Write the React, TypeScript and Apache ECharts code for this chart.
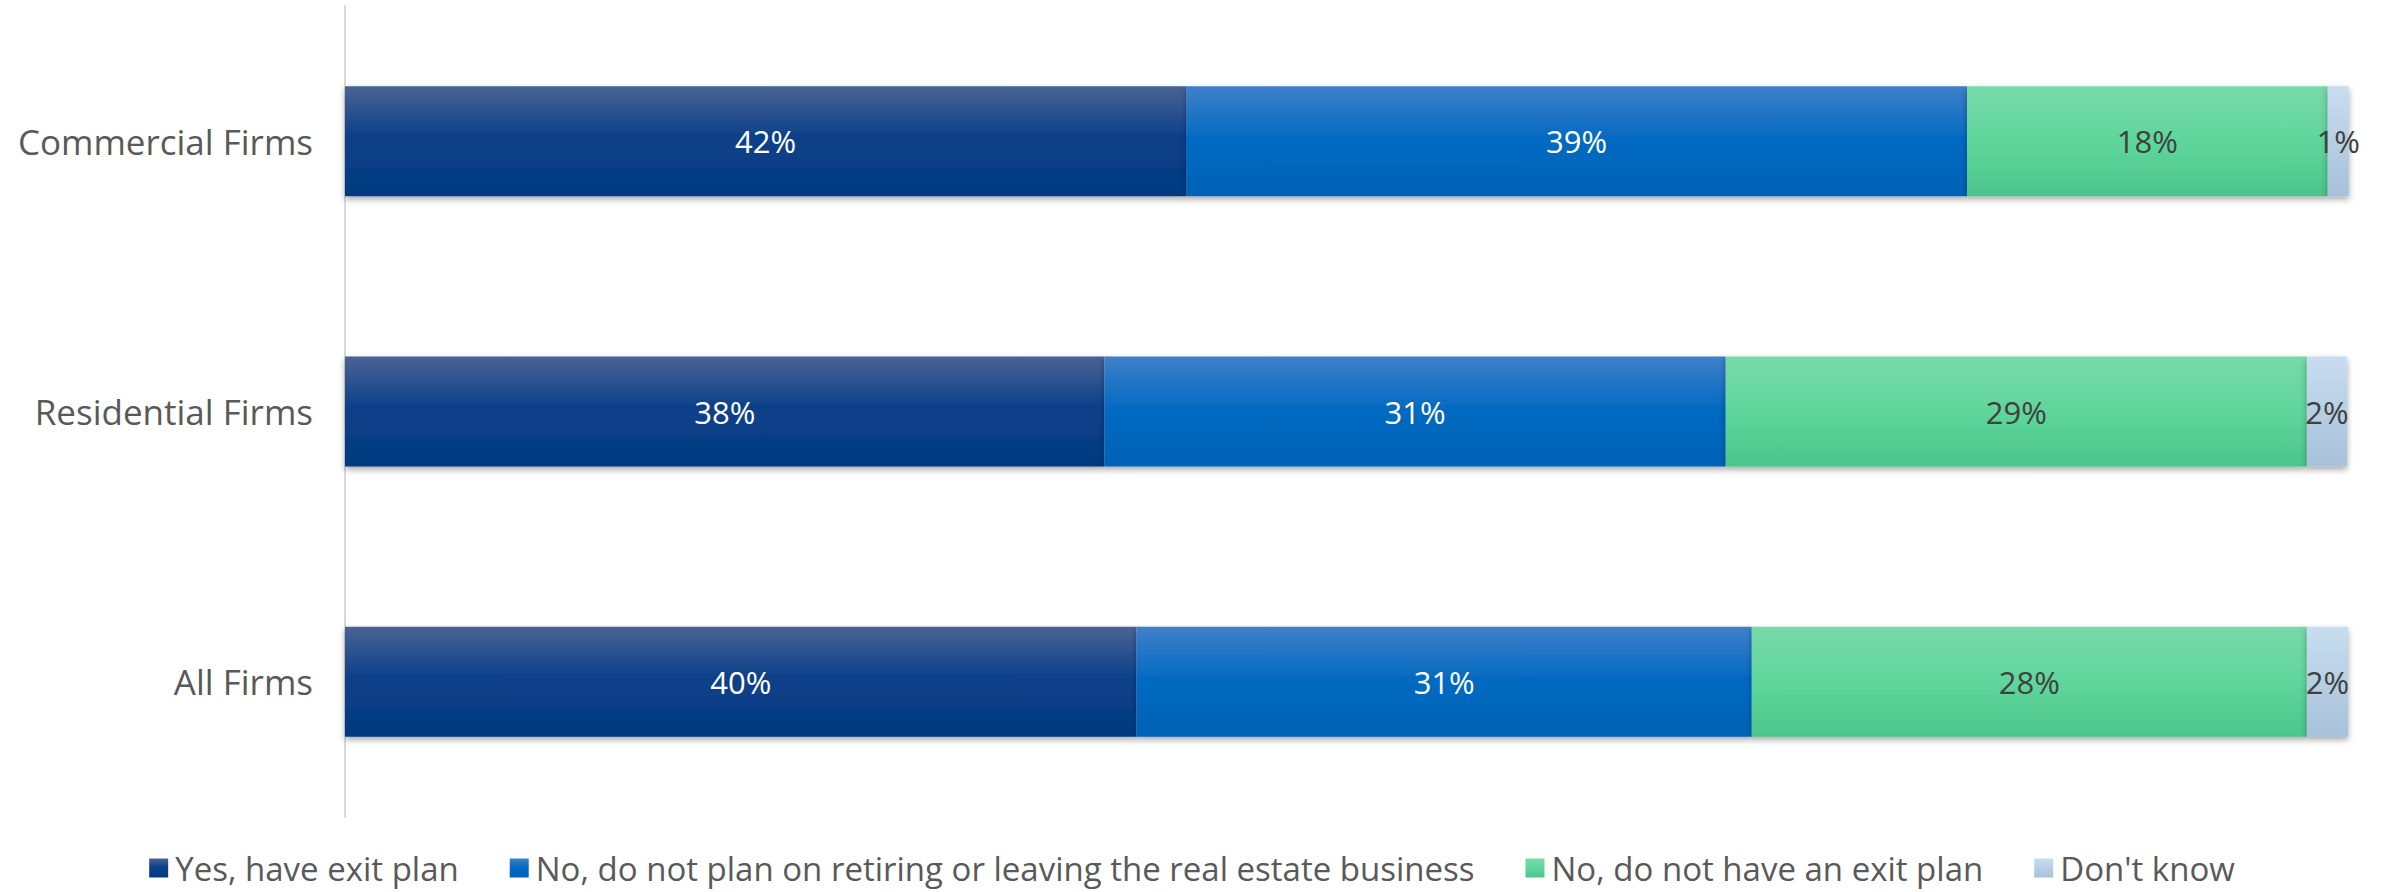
import React, { useEffect, useRef } from "react";
import * as echarts from "echarts";

const categories = ["All Firms", "Residential Firms", "Commercial Firms"];
const seriesNames = [
  "Yes, have exit plan",
  "No, do not plan on retiring or leaving the real estate business",
  "No, do not have an exit plan",
  "Don't know",
];
const yesExitPlan = [39.5, 37.9, 41.97];
const noPlanRetiring = [30.7, 31.0, 38.97];
const noExitPlan = [27.7, 29.0, 18.0];
const dontKnow = [2.05, 2.0, 1.05];

const FONT = "'Open Sans', 'Noto Sans', sans-serif";

function grad(stops: [number, string][]) {
  return new echarts.graphic.LinearGradient(
    0, 0, 0, 1,
    stops.map(([offset, color]) => ({ offset, color }))
  );
}

export default function App() {
  const ref = useRef<HTMLDivElement>(null);
  useEffect(() => {
    if (!ref.current) return;
    const chart = echarts.init(ref.current, undefined, { renderer: "svg" });
    const fills = [
      grad([[0, "#4a6394"], [0.45, "#0e418a"], [1, "#003a80"]]),
      grad([[0, "#3f80c9"], [0.5, "#0069c1"], [1, "#0063b6"]]),
      grad([[0, "#78d9a9"], [0.5, "#5fd69c"], [1, "#4bc58b"]]),
      grad([[0, "#c8ddef"], [1, "#a6c1da"]]),
    ];
    const labelColors = ["#ffffff", "#ffffff", "#404040", "#404040"];
    const datas = [yesExitPlan, noPlanRetiring, noExitPlan, dontKnow];
    chart.setOption({
      animation: false,
      backgroundColor: "#ffffff",
      grid: { left: 345, right: 35, top: 6, bottom: 75, containLabel: false },
      xAxis: { type: "value", min: 0, max: 100, show: false },
      yAxis: {
        type: "category",
        data: categories,
        axisTick: { show: false },
        axisLine: { show: true, lineStyle: { color: "#d9d9d9", width: 2 } },
        axisLabel: {
          color: "#595959",
          fontSize: 35,
          fontFamily: FONT,
          margin: 32,
        },
        splitLine: { show: false },
      },
      legend: {
        top: 850,
        left: "center",
        padding: 0,
        icon: "rect",
        itemWidth: 19,
        itemHeight: 19,
        itemGap: 51,
        textStyle: {
          color: "#595959",
          fontSize: 33,
          fontFamily: FONT,
          lineHeight: 36,
          padding: [0, 0, 0, 2],
        },
        data: seriesNames,
      },
      series: seriesNames.map((name, i) => ({
        name,
        type: "bar",
        stack: "total",
        barWidth: 110,
        data: datas[i],
        itemStyle: {
          color: fills[i],
          shadowColor: "rgba(0,0,0,0.35)",
          shadowBlur: 6,
          shadowOffsetY: 3,
          shadowOffsetX: 0,
        },
        label: {
          show: true,
          position: "inside",
          color: labelColors[i],
          fontSize: 31,
          fontFamily: FONT,
          formatter: (p: any) => `${Math.round(p.value)}%`,
        },
      })),
    });
    return () => chart.dispose();
  }, []);
  return (
    <div
      ref={ref}
      style={{ position: "fixed", left: 0, top: 0, width: 2384, height: 892 }}
    />
  );
}
